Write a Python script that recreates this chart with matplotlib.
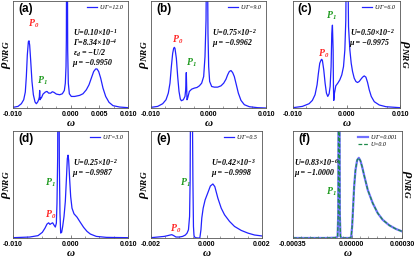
import matplotlib.pyplot as plt
from matplotlib.ticker import MultipleLocator

plt.rcParams['mathtext.fontset'] = 'custom'
plt.rcParams['mathtext.it'] = 'Liberation Serif:italic:bold'
plt.rcParams['mathtext.rm'] = 'Liberation Serif:italic:bold'
plt.rcParams['mathtext.bf'] = 'Liberation Serif:italic:bold'
plt.rcParams['mathtext.fallback'] = 'stix'

# spectral functions (rho in units of panel height)
w_a = [-0.0100, -0.00913, -0.00855, -0.00814, -0.00786, -0.00768, -0.00751, -0.00733, -0.00722,
       -0.00710, -0.00693, -0.00670, -0.00646, -0.00617, -0.00594, -0.00571, -0.00554, -0.00542,
       -0.00536, -0.00530, -0.00519, -0.00507, -0.00478, -0.00438, -0.00409, -0.00380, -0.00345,
       -0.00316, -0.00287, -0.00246, -0.00188, -0.00142, -0.00107, -0.00090, -0.00078, -0.00072,
       -0.00067, -0.00055, -0.00049, -0.00038, -0.00020, 0.00014, 0.00072, 0.00159, 0.00217,
       0.00275, 0.00322, 0.00362, 0.00403, 0.00438, 0.00461, 0.00490, 0.00525, 0.00565, 0.00612,
       0.00670, 0.00739, 0.00855, 0.0100]
rho_a = [0.006, 0.015, 0.040, 0.077, 0.149, 0.294, 0.495, 0.619, 0.628,
         0.588, 0.449, 0.248, 0.124, 0.056, 0.040, 0.056, 0.077, 0.102,
         0.164, 0.077, 0.096, 0.093, 0.130, 0.149, 0.155, 0.139, 0.139,
         0.152, 0.146, 0.130, 0.124, 0.133, 0.164, 0.232, 0.387, 0.635,
         1.6, 1.6, 0.542, 0.232, 0.133, 0.108, 0.108, 0.118, 0.133,
         0.170, 0.217, 0.279, 0.341, 0.365, 0.365, 0.341, 0.279, 0.186, 0.108,
         0.053, 0.022, 0.009, 0.003]

w_b = [-0.0100, -0.00884, -0.00797, -0.00739, -0.00699, -0.00670, -0.00646, -0.00623, -0.00606,
       -0.00594, -0.00583, -0.00559, -0.00536, -0.00513, -0.00490, -0.00472, -0.00438, -0.00409,
       -0.00397, -0.00386, -0.00380, -0.00374, -0.00362, -0.00333, -0.00293, -0.00246, -0.00200,
       -0.00159, -0.00119, -0.00084, -0.00061, -0.00043, -0.00032, -0.00020, -0.00009, 0.00003,
       0.00020, 0.00055, 0.00101, 0.00159, 0.00217, 0.00264, 0.00304, 0.00333, 0.00362, 0.00391,
       0.00420, 0.00449, 0.00484, 0.00519, 0.00565, 0.00623, 0.00710, 0.00855, 0.0100]
rho_b = [0.006, 0.015, 0.040, 0.077, 0.139, 0.232, 0.387, 0.511, 0.557,
         0.567, 0.557, 0.464, 0.294, 0.155, 0.084, 0.068, 0.077, 0.108,
         0.170, 0.331, 0.201, 0.077, 0.093, 0.155, 0.176, 0.186, 0.192,
         0.207, 0.232, 0.294, 0.480, 0.820, 1.6, 1.6, 0.697, 0.387,
         0.248, 0.201, 0.195, 0.195, 0.207, 0.232, 0.269, 0.310, 0.341, 0.350,
         0.331, 0.294, 0.217, 0.139, 0.071, 0.031, 0.012, 0.003, 0.0]

w_c = [-0.0100, -0.00825, -0.00700, -0.00638, -0.00588, -0.00550, -0.00525, -0.00500, -0.00475,
       -0.00463, -0.00450, -0.00425, -0.00400, -0.00375, -0.00350, -0.00325, -0.00306, -0.00288,
       -0.00275, -0.00263, -0.00250, -0.00244, -0.00238, -0.00225, -0.00200, -0.00163, -0.00125,
       -0.00088, -0.00056, -0.00031, -0.00013, 0.0000, 0.00019, 0.00038, 0.00063, 0.00088,
       0.00113, 0.00144, 0.00175, 0.00206, 0.00238, 0.00269, 0.00300, 0.00331, 0.00363, 0.00394,
       0.00425, 0.00463, 0.00519, 0.00613, 0.00738, 0.0100]
rho_c = [0.003, 0.015, 0.040, 0.071, 0.124, 0.217, 0.325, 0.418, 0.449,
         0.455, 0.443, 0.356, 0.232, 0.139, 0.108, 0.133, 0.201, 0.387,
         0.697, 0.774, 0.542, 0.201, 0.071, 0.139, 0.207, 0.232, 0.263,
         0.310, 0.387, 0.542, 0.820, 1.6, 1.6, 0.759, 0.542, 0.418,
         0.341, 0.279, 0.248, 0.238, 0.248, 0.269, 0.288, 0.300, 0.288, 0.238,
         0.170, 0.108, 0.059, 0.028, 0.012, 0.003]

w_d = [-0.0100, -0.00710, -0.00565, -0.00490, -0.00443, -0.00409, -0.00380, -0.00357, -0.00333,
       -0.00310, -0.00287, -0.00264, -0.00246, -0.00235, -0.00223, -0.00217, -0.00200, -0.00194,
       -0.00183, -0.00171, -0.00154, -0.00136, -0.00113, -0.00090, -0.00072, -0.00055, -0.00043,
       -0.00032, -0.00014, 0.00003, 0.00026, 0.00061, 0.00113, 0.00171, 0.00229, 0.00287,
       0.00345, 0.00449, 0.00623, 0.0100]
rho_d = [0.003, 0.009, 0.022, 0.053, 0.093, 0.130, 0.142, 0.127, 0.136,
         0.142, 0.121, 0.102, 0.139, 0.325, 0.759, 1.6, 1.6, 0.697,
         0.232, 0.046, 0.053, 0.108, 0.201, 0.341, 0.542, 0.743, 0.774,
         0.728, 0.542, 0.387, 0.279, 0.226, 0.195, 0.146, 0.099, 0.062,
         0.037, 0.015, 0.006, 0.003]

w_e = [-0.0020, -0.00176, -0.00152, -0.00140, -0.00131, -0.00125, -0.00118, -0.00110, -0.00098,
       -0.00086, -0.00076, -0.00070, -0.00065, -0.00061, -0.00059, -0.00057, -0.00052, -0.00049,
       -0.00047, -0.00045, -0.00041, -0.00031, -0.00024, -0.00020, -0.00017, -0.00012, -0.00005,
       0.00005, 0.00014, 0.00023, 0.00030, 0.00041, 0.00053, 0.00065, 0.00083, 0.00101,
       0.00125, 0.00149, 0.00173, 0.0020]
rho_e = [0.003, 0.009, 0.015, 0.022, 0.028, 0.031, 0.022, 0.009, 0.009,
         0.015, 0.028, 0.046, 0.077, 0.201, 0.542, 1.6, 1.6, 0.542,
         0.108, 0.022, 0.003, 0.0, 0.0, 0.077, 0.186, 0.279, 0.356,
         0.424, 0.486, 0.505, 0.480, 0.372, 0.279, 0.217, 0.155, 0.108,
         0.071, 0.046, 0.028, 0.019]

w_f = [-0.00035, -0.000152, -0.000092, -0.000084, -0.000080, -0.000078, -0.000073, -0.000071,
       -0.000067, -0.000061, -0.000013, -0.0000032, 0.0000027, 0.0000087, 0.0000146, 0.0000226,
       0.0000325, 0.0000424, 0.0000523, 0.0000622, 0.0000761, 0.0000959, 0.0001256, 0.0001553,
       0.000185, 0.0002247, 0.0002643, 0.0003]
rho_f = [0.0, 0.0, 0.003, 0.015, 0.232, 1.6, 1.6, 0.232,
         0.015, 0.0, 0.0, 0.009, 0.108, 0.294, 0.480, 0.635,
         0.728, 0.749, 0.721, 0.666, 0.573, 0.449, 0.325, 0.232,
         0.170, 0.118, 0.084, 0.062]
rho_f_u0 = rho_f  # U = 0 curve lies on top of the U/Gamma = 0.001 one

panels = ['(a)', '(b)', '(c)', '(d)', '(e)', '(f)']
ratios = ['U/Γ=12.0', 'U/Γ=9.0', 'U/Γ=6.0', 'U/Γ=3.0', 'U/Γ=0.5', 'U/Γ=0.001']
params = [['U=0.10×10$^{-1}$', 'Γ=8.34×10$^{-4}$', 'ε$_d$ = −U/2', 'μ = −0.9950'],
          ['U=0.75×10$^{-2}$', 'μ = −0.9962'],
          ['U=0.50×10$^{-2}$', 'μ = −0.9975'],
          ['U=0.25×10$^{-2}$', 'μ = −0.9987'],
          ['U=0.42×10$^{-3}$', 'μ = −0.9998'],
          ['U=0.83×10$^{-6}$', 'μ = −1.0000']]
xlims = [(-0.01, 0.01)] * 4 + [(-0.002, 0.002), (-0.00035, 0.0003)]
xticks = [[-0.01, 0, 0.005, 0.01], [-0.01, 0, 0.01], [-0.01, 0, 0.01], [-0.01, 0, 0.01],
          [-0.002, 0, 0.002], [-0.00035, 0, 0.0003]]
xticklabels = [['-0.010', '0.000', '0.005', '0.010'], ['-0.010', '0.000', '0.010'],
               ['-0.010', '0.000', '0.010'], ['-0.010', '0.000', '0.010'],
               ['-0.002', '0.000', '0.002'], ['-0.00035', '0.00000', '0.00030']]
minor_step = [0.0025] * 4 + [0.0005, 0.00005]

boxes = [[13, 1, 128, 108], [151, 1, 266, 108], [293, 1, 400, 108],
         [13, 131, 128, 238], [151, 131, 262, 238], [293, 131, 402, 238]]
param_pos = [(0.52, 0.71), (0.53, 0.71), (0.53, 0.71), (0.52, 0.71), (0.54, 0.71), (0.01, 0.71)]
p0_pos = [(0.13, 0.79), (0.18, 0.635), (0.23, 0.51), (0.28, 0.215), (0.17, 0.09), None]
p1_pos = [(0.21, 0.255), (0.30, 0.42), (0.31, 0.86), (0.28, 0.52), (0.265, 0.52), (0.30, 0.43)]
data = [(w_a, rho_a), (w_b, rho_b), (w_c, rho_c), (w_d, rho_d), (w_e, rho_e), (w_f, rho_f)]

blue = '#2222ff'
red = '#ff2626'
green = '#1f9a1f'
serif = dict(family='Liberation Serif', style='italic', weight='bold')

fig = plt.figure(figsize=(4.16, 2.61), dpi=100)
W, H = 416, 261

for i in range(6):
    l, t, r, b = boxes[i]
    ax = fig.add_axes([l / W, (H - b) / H, (r - l) / W, (b - t) / H])
    w, rho = data[i]
    if i == 5:
        ax.plot(w, rho, color='#7070ff', lw=1.6, label=ratios[i])
        ax.plot(w, rho_f_u0, color='#1e8a4a', lw=0.9, ls=(0, (3, 1.5)), label='U=0.0')
    else:
        ax.plot(w, rho, color=blue, lw=0.9, label=ratios[i])
    ax.set_xlim(*xlims[i])
    ax.set_ylim(0, 1.0)
    ax.set_xticks(xticks[i])
    ax.set_xticklabels(xticklabels[i], fontfamily='Liberation Sans', fontweight='bold', fontsize=5)
    ax.xaxis.set_minor_locator(MultipleLocator(minor_step[i]))
    ax.tick_params(axis='x', which='major', direction='in', length=2.5, width=0.5, pad=2,
                   color='#555555')
    ax.tick_params(axis='x', which='minor', direction='in', length=1.3, width=0.4, color='#555555')
    ax.set_yticks([])
    for s in ax.spines.values():
        s.set_color('#555555')
        s.set_linewidth(0.6)
    ax.set_xlabel(r'$\omega$', fontsize=8, labelpad=0)
    if i in (2, 5):
        ax.yaxis.set_label_position('right')
        ax.set_ylabel(r'$\rho_{NRG}$', fontsize=9.5, rotation=-90, labelpad=8)
    else:
        ax.set_ylabel(r'$\rho_{NRG}$', fontsize=9.5, labelpad=0)

    ax.text(0.045, 0.985, panels[i], transform=ax.transAxes, ha='left', va='top',
            fontfamily='Liberation Sans', fontweight='bold', fontsize=8.5)
    ax.legend(loc='upper right', frameon=False, handlelength=1.6, handletextpad=0.5,
              borderaxespad=0.3, labelspacing=0.3,
              prop=dict(family='Liberation Serif', style='italic', size=4.3))

    px, py = param_pos[i]
    for k, line in enumerate(params[i]):
        ax.text(px, py - k * 0.098, line, transform=ax.transAxes, ha='left', va='center',
                fontsize=5.8, **serif)
    if p0_pos[i] is not None:
        ax.text(*p0_pos[i], 'P$_0$', transform=ax.transAxes, ha='left', va='center',
                color=red, fontsize=7, **serif)
    ax.text(*p1_pos[i], 'P$_1$', transform=ax.transAxes, ha='left', va='center',
            color=green, fontsize=7, **serif)

fig.savefig('out.png', dpi=100)
